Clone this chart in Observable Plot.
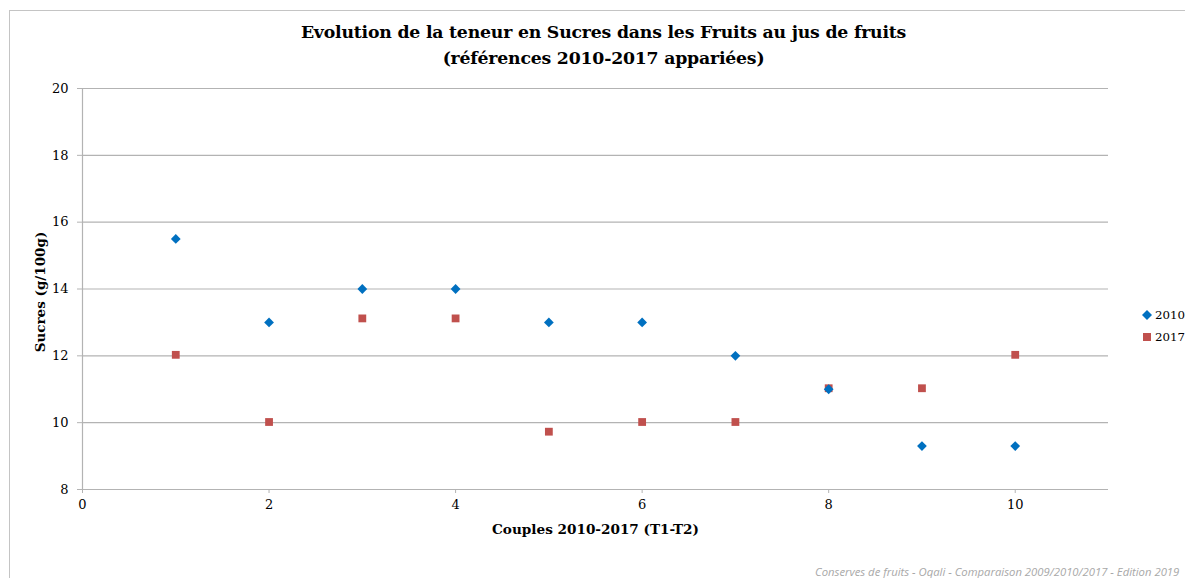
<!DOCTYPE html>
<html>
<head>
<meta charset="utf-8">
<script src="https://cdn.jsdelivr.net/npm/d3@7"></script>
<script src="https://cdn.jsdelivr.net/npm/@observablehq/plot@0.6"></script>
<style>
  body { margin: 0; background: #fff; }
  #wrap { position: relative; width: 1185px; height: 578px; overflow: hidden; font-family: "DejaVu Serif", serif; }
  #frame { position: absolute; left: 9px; top: 10px; width: 1300px; height: 700px; border: 1px solid #c4c4c4; box-sizing: border-box; }
  #title { position: absolute; left: 0; width: 1207px; top: 19px; text-align: center; font-weight: bold; font-size: 17.3px; line-height: 26px; color: #000; letter-spacing: -0.2px; }
  #chart { position: absolute; left: 0; top: 0; }
  .leg { position: absolute; left: 1142px; font-size: 11.8px; display: flex; align-items: center; }
  .leg svg { margin-right: 3px; }
  #caption { position: absolute; left: 815px; top: 564px; white-space: nowrap; font-family: "Open Sans", sans-serif; font-style: italic; font-size: 11.3px; color: #a8a8a8; }
</style>
</head>
<body>
<div id="wrap">
  <div id="frame"></div>
  <div id="chart"></div>
  <div id="title">Evolution de la teneur en Sucres dans les Fruits au jus de fruits<br>(références 2010-2017 appariées)</div>
  <div class="leg" style="top:308px"><svg width="10" height="10"><path d="M5,0L10,5L5,10L0,5Z" fill="#0070c0"/></svg>2010</div>
  <div class="leg" style="top:330px"><svg width="10" height="10"><rect x="1" y="1" width="8" height="8" fill="#c0504d"/></svg>2017</div>
  <div id="caption">Conserves de fruits - Oqali - Comparaison 2009/2010/2017  - Edition 2019</div>
</div>
<script>
const couples = [1, 2, 3, 4, 5, 6, 7, 8, 9, 10];
const sucres2010 = [15.5, 13, 14, 14, 13, 13, 12, 11, 9.3, 9.3];
const sucres2017 = [12.03, 10.02, 13.12, 13.12, 9.73, 10.02, 10.02, 11.03, 11.03, 12.03];
const yTicks = [8, 10, 12, 14, 16, 18, 20];
const xTicks = [0, 2, 4, 6, 8, 10];

const d2010 = couples.map((c, i) => ({x: c, y: sucres2010[i]}));
const d2017 = couples.map((c, i) => ({x: c, y: sucres2017[i]}));

const plot = Plot.plot({
  width: 1185,
  height: 578,
  marginLeft: 82,
  marginRight: 77,
  marginTop: 88,
  marginBottom: 89,
  style: {fontFamily: "DejaVu Serif, serif", fontSize: "13px", color: "#000", background: "transparent"},
  x: {domain: [0, 11]},
  y: {domain: [8, 20]},
  marks: [
    Plot.gridY(yTicks, {stroke: "#b3b3b3", strokeOpacity: 1, strokeWidth: 1.2}),
    Plot.ruleX([0], {stroke: "#b3b3b3", strokeWidth: 1.2}),
    Plot.ruleY([8], {stroke: "#b3b3b3", strokeWidth: 1.2}),
    Plot.axisY(yTicks, {tickSize: 5, tickPadding: 9, stroke: "#b3b3b3", label: null, fill: "#000"}),
    Plot.axisX(xTicks, {tickSize: 4, tickPadding: 6, stroke: "#b3b3b3", label: null, fill: "#000"}),
    Plot.text(["Sucres (g/100g)"], {frameAnchor: "left", textAnchor: "middle", dx: -42, dy: 3, rotate: -90, fontWeight: "bold", fontSize: 13.5}),
    Plot.text(["Couples 2010-2017 (T1-T2)"], {frameAnchor: "bottom", dy: 44, dx: 0, fontWeight: "bold", fontSize: 13.6}),
    Plot.dot(d2017, {x: "x", y: "y", symbol: "square", r: 4.4, fill: "#c0504d", stroke: null}),
    Plot.dot(d2010, {x: "x", y: "y", symbol: "diamond2", r: 4.4, fill: "#0070c0", stroke: null})
  ]
});
document.getElementById("chart").appendChild(plot);
</script>
</body>
</html>
